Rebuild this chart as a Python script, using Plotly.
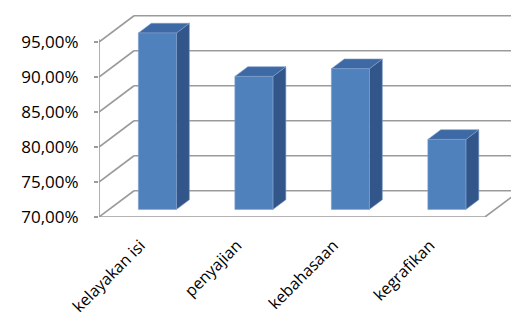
import plotly.graph_objects as go

categories = ["kelayakan isi", "penyajian", "kebahasaan", "kegrafikan"]
values = [95.2, 89.0, 90.1, 80.0]
tick_values = [70, 75, 80, 85, 90, 95]
tick_labels = ["70,00%", "75,00%", "80,00%", "85,00%", "90,00%", "95,00%"]

# oblique projection parameters (data units)
DX = 0.363   # full depth, x offset in category units
DY = 3.75    # full depth, y offset in percent units
D1, D2 = 0.29, 0.66   # bar front / back depth fractions
BW = 0.394            # bar width in category units
YMIN = 70
XMAX = 3.77
LABEL_SHIFT = -0.07

grid_col = "#9b9b9b"
front_col = "#4F81BD"
side_col = "#32568A"
top_col = "#3D69A4"
edge_col = "#7f9dcb"

fig = go.Figure()

def line(xs, ys, w=1.6):
    fig.add_trace(go.Scatter(x=xs, y=ys, mode="lines", line=dict(color=grid_col, width=w),
                             hoverinfo="skip", showlegend=False))

n = len(categories)
x0 = -0.5
x1 = n - 0.5
# back wall gridlines + left wall diagonals
for v in tick_values:
    line([x0 + DX, XMAX + 1], [v + DY, v + DY])
    line([x0, x0 + DX], [v, v + DY])
# front axis line
line([x0, x0], [YMIN, tick_values[-1] + 0.4])
# floor front edge and right diagonal
line([x0, x1], [YMIN, YMIN])
line([x1, x1 + DX], [YMIN, YMIN + DY])

def face(xs, ys, col):
    fig.add_trace(go.Scatter(x=xs, y=ys, fill="toself", fillcolor=col, mode="lines",
                             line=dict(color=edge_col, width=0.6), hoverinfo="skip",
                             showlegend=False))

# bars (front, side, top faces)
for i, v in enumerate(values):
    xl1 = i - BW / 2 + D1 * DX
    xr1 = i + BW / 2 + D1 * DX
    xr2 = i + BW / 2 + D2 * DX
    xl2 = i - BW / 2 + D2 * DX
    b1 = YMIN + D1 * DY
    b2 = YMIN + D2 * DY
    t1 = v + D1 * DY
    t2 = v + D2 * DY
    face([xr1, xr2, xr2, xr1, xr1], [b1, b2, t2, t1, b1], side_col)
    face([xl1, xr1, xr2, xl2, xl1], [t1, t1, t2, t2, t1], top_col)
    face([xl1, xr1, xr1, xl1, xl1], [b1, b1, t1, t1, b1], front_col)

# x tick marks at category boundaries
for k in range(n + 1):
    fig.add_trace(go.Scatter(x=[x0 + k, x0 + k], y=[YMIN, YMIN - 0.6], mode="lines",
                             line=dict(color=grid_col, width=1.6), hoverinfo="skip",
                             showlegend=False, cliponaxis=False))

fig.update_layout(
    width=511, height=320,
    margin=dict(l=99, r=0, t=0, b=103),
    paper_bgcolor="white", plot_bgcolor="white",
    font=dict(family="Open Sans, Calibri, sans-serif", size=17, color="#000000"),
    xaxis=dict(range=[x0, XMAX], tickvals=[i + LABEL_SHIFT for i in range(n)], ticktext=categories,
               tickangle=-45, showgrid=False, zeroline=False, showline=False,
               ticks="", tickfont=dict(size=16), ticklabelstandoff=15, automargin=False),
    yaxis=dict(range=[YMIN, YMIN + 217 / 7], tickvals=tick_values, ticktext=tick_labels,
               showgrid=False, zeroline=False, showline=False, ticks="outside",
               ticklen=4, tickcolor=grid_col, tickwidth=1.6, tickfont=dict(size=17),
               ticklabelstandoff=12, automargin=False),
)

fig.write_html("out.html")
